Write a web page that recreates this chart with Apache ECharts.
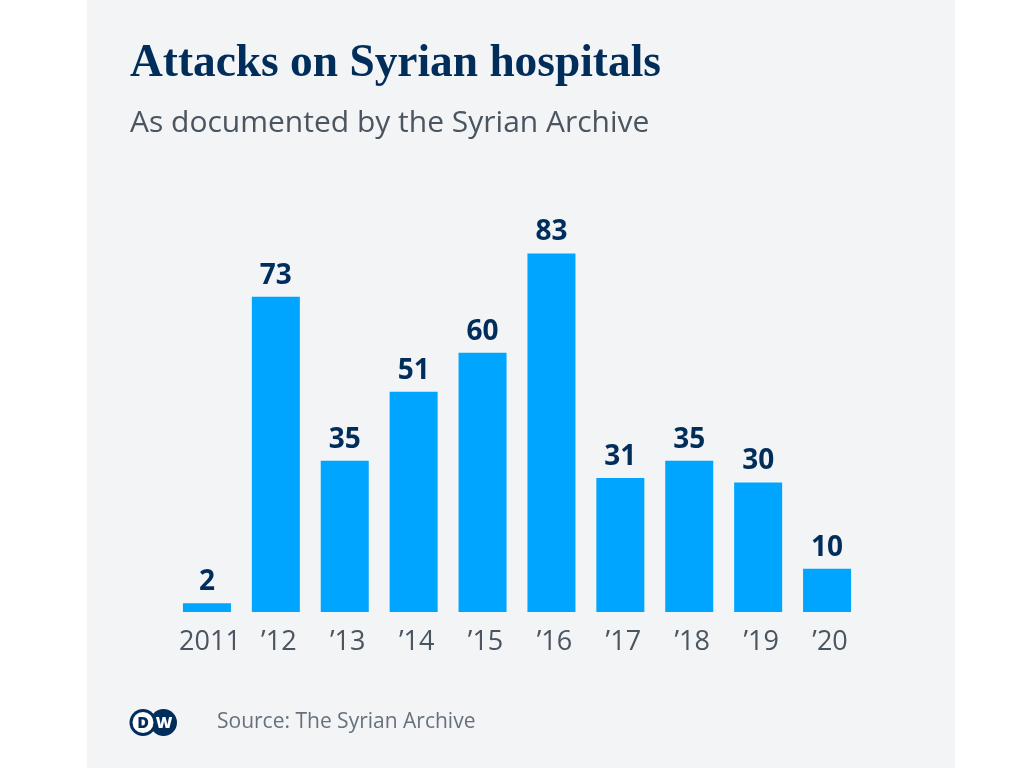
<!doctype html>
<html>
<head>
<meta charset="utf-8">
<title>Attacks on Syrian hospitals</title>
<script src="https://cdn.jsdelivr.net/npm/echarts@6/dist/echarts.min.js"></script>
<style>
html, body { margin: 0; padding: 0; background: #fff; }
#chart { width: 1024px; height: 768px; }
</style>
</head>
<body>
<div id="chart"></div>
<script>
var years = ['2011', '’12', '’13', '’14', '’15', '’16', '’17', '’18', '’19', '’20'];
var attacks = [2, 73, 35, 51, 60, 83, 31, 35, 30, 10];

var navy = '#002d5a', grey = '#4a5560', panel = '#f2f4f6';
var sans = '"Open Sans", "Noto Sans", sans-serif';

var chart = echarts.init(document.getElementById('chart'));
chart.setOption({
	animation: false,
	title: [
		{ text: 'Attacks on Syrian hospitals', left: 130, top: 42, padding: 0,
		  textStyle: { fontFamily: '"Liberation Serif", serif', fontWeight: 'bold', fontSize: 45.4, color: navy } },
		{ text: 'As documented by the Syrian Archive', left: 130, top: 108, padding: 0,
		  textStyle: { fontFamily: sans, fontWeight: 'normal', fontSize: 30, color: grey } },
		{ text: 'Source: The Syrian Archive', left: 217, top: 712, padding: 0,
		  textStyle: { fontFamily: sans, fontWeight: 'normal', fontSize: 21, color: '#66717c' } }
	],
	grid: { left: 172.5, width: 689, top: 180, height: 432 },
	xAxis: {
		type: 'category',
		data: years,
		axisLine: { show: false },
		axisTick: { show: false },
		axisLabel: { interval: 0, fontFamily: sans, fontSize: 27, color: grey, margin: 17, padding: [0, 0, 0, 6] }
	},
	yAxis: { type: 'value', min: 0, max: 100, show: false },
	series: [{
		type: 'bar',
		data: attacks,
		barWidth: 48,
		itemStyle: { color: '#00a5ff' },
		label: { show: true, position: 'top', distance: 7, fontFamily: sans, fontWeight: 'bold', fontSize: 28, color: navy }
	}],
	graphic: [
		{ type: 'rect', z: -10, shape: { x: 87, y: 0, width: 868, height: 768 }, style: { fill: panel } },
		{ type: 'circle', z: 5, shape: { cx: 143, cy: 722.5, r: 13.5 }, style: { fill: navy } },
		{ type: 'circle', z: 5, shape: { cx: 163.5, cy: 722.5, r: 13.5 }, style: { fill: navy } },
		{ type: 'circle', z: 6, shape: { cx: 143, cy: 722.5, r: 10.5 }, style: { fill: '#fff' } },
		{ type: 'text', z: 7, style: { x: 143, y: 723, text: 'D', align: 'center', verticalAlign: 'middle', fontFamily: sans, fontWeight: 800, fontSize: 16, fill: navy } },
		{ type: 'text', z: 7, style: { x: 164, y: 723, text: 'W', align: 'center', verticalAlign: 'middle', fontFamily: sans, fontWeight: 800, fontSize: 16, fill: '#fff' } }
	]
});
</script>
</body>
</html>
